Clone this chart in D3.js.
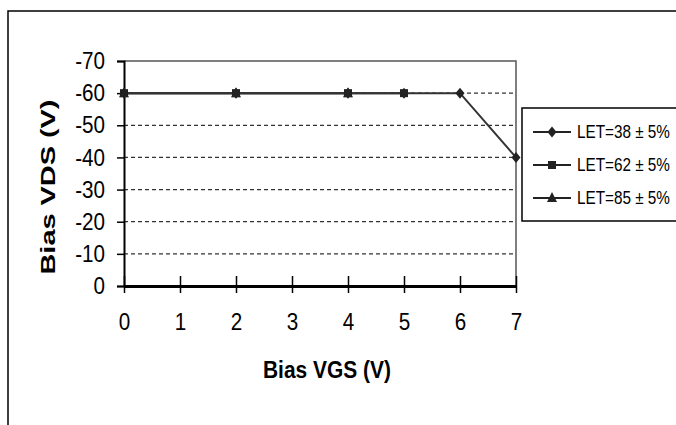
<!DOCTYPE html>
<html lang="en">
<head>
<meta charset="UTF-8">
<title>Bias VDS vs Bias VGS</title>
<script src="https://cdn.jsdelivr.net/npm/d3@7"></script>
<style>
body{margin:0;background:#fff;}
text{font-family:"Liberation Sans",Arial,sans-serif;fill:#000;}
</style>
</head>
<body>
<script>
// data
var seriesNames = ["LET=38 \u00b1 5%", "LET=62 \u00b1 5%", "LET=85 \u00b1 5%"];
var markers = ["diamond", "square", "triangle"];
var vgs38 = [0, 2, 4, 5, 6, 7];
var vds38 = [-60, -60, -60, -60, -60, -40];
var vgs62 = [0, 2, 4, 5];
var vds62 = [-60, -60, -60, -60];
var vgs85 = [0, 2, 4];
var vds85 = [-60, -60, -60];
var xTicks = [0, 1, 2, 3, 4, 5, 6, 7];
var yTicks = [0, -10, -20, -30, -40, -50, -60, -70];

var width = 676, height = 425;
var svg = d3.select("body").append("svg").attr("width", width).attr("height", height);

// squeeze text a bit, the original font is narrow
function narrow(sel, k) {
	sel.each(function() {
		var w = this.getComputedTextLength();
		d3.select(this).attr("textLength", w * k).attr("lengthAdjust", "spacingAndGlyphs");
	});
}

// outer frame (only top and left show)
svg.append("path").attr("d", "M8,425V11H676").attr("fill", "none").attr("stroke", "#000").attr("stroke-width", 1.5);

var x = d3.scaleLinear().domain([0, 7]).range([124, 516]);
var y = d3.scaleLinear().domain([0, -70]).range([286, 61]);

// gridlines
svg.selectAll(".grid").data(yTicks.filter(function(d){return d != 0 && d != -70;})).enter().append("line")
	.attr("x1", x(0)).attr("x2", x(7)).attr("y1", function(d){return y(d);}).attr("y2", function(d){return y(d);})
	.attr("stroke", "#333").attr("stroke-width", 1.2).attr("stroke-dasharray", "4,3");
// plot area top / right
svg.append("path").attr("d", "M" + x(0) + "," + y(-70) + "H" + x(7) + "V" + y(0))
	.attr("fill", "none").attr("stroke", "#555").attr("stroke-width", 1.5);

var fmt = function(d){return String(d);};

// y axis
var yAxis = svg.append("g").attr("transform", "translate(" + x(0) + ",0)")
	.call(d3.axisLeft(y).tickValues(yTicks).tickSize(7).tickPadding(12).tickFormat(fmt));
yAxis.select(".domain").attr("stroke-width", 2);
yAxis.selectAll(".tick line").attr("stroke-width", 1.5);
yAxis.selectAll("text").attr("font-size", 24).attr("font-family", null).call(narrow, 0.86);

// x axis, ticks cross the line
var xAxis = svg.append("g").attr("transform", "translate(0," + y(0) + ")")
	.call(d3.axisBottom(x).tickValues(xTicks).tickSize(7).tickSizeOuter(0).tickPadding(20).tickFormat(fmt));
xAxis.select(".domain").attr("stroke-width", 3);
xAxis.selectAll(".tick line").attr("y1", -10).attr("stroke-width", 1.5);
xAxis.selectAll("text").attr("font-size", 24).attr("font-family", null).call(narrow, 0.86);

// axis titles
svg.append("text").attr("transform", "translate(47,187) rotate(-90)")
	.attr("text-anchor", "middle").attr("dominant-baseline", "central")
	.attr("font-size", 21).attr("font-weight", "bold")
	.attr("textLength", 175).attr("lengthAdjust", "spacingAndGlyphs")
	.text("Bias VDS (V)");
svg.append("text").attr("x", 327).attr("y", 370)
	.attr("text-anchor", "middle").attr("dominant-baseline", "central")
	.attr("font-size", 23).attr("font-weight", "bold")
	.attr("textLength", 128).attr("lengthAdjust", "spacingAndGlyphs")
	.text("Bias VGS (V)");

// series
var series = [
	{xs: vgs38, ys: vds38},
	{xs: vgs62, ys: vds62},
	{xs: vgs85, ys: vds85}
];
function markerPath(type, cx, cy) {
	if (type == "diamond") return "M" + cx + "," + (cy - 5.5) + "L" + (cx + 4.5) + "," + cy + "L" + cx + "," + (cy + 5.5) + "L" + (cx - 4.5) + "," + cy + "Z";
	if (type == "square") return "M" + (cx - 4) + "," + (cy - 4) + "h8v8h-8Z";
	return "M" + cx + "," + (cy - 6) + "L" + (cx + 5) + "," + (cy + 4) + "L" + (cx - 5) + "," + (cy + 4) + "Z";
}
var line = d3.line().x(function(d){return x(d[0]);}).y(function(d){return y(d[1]);});
series.forEach(function(s, i) {
	var pts = s.xs.map(function(v, j){return [v, s.ys[j]];});
	svg.append("path").datum(pts).attr("d", line).attr("fill", "none")
		.attr("stroke", "#333").attr("stroke-width", 2);
});
series.forEach(function(s, i) {
	var pts = s.xs.map(function(v, j){return [v, s.ys[j]];});
	svg.selectAll(".m" + i).data(pts).enter().append("path").attr("class", "m" + i)
		.attr("d", function(d){return markerPath(markers[i], x(d[0]), y(d[1]));})
		.attr("fill", "#222");
});

// legend
var legend = svg.append("g");
legend.append("rect").attr("x", 522).attr("y", 108).attr("width", 160).attr("height", 113)
	.attr("fill", "#fff").attr("stroke", "#000").attr("stroke-width", 1.5);
var items = legend.selectAll(".item").data(seriesNames).enter().append("g")
	.attr("transform", function(d, i){return "translate(0," + (132 + i * 33) + ")";});
items.append("line").attr("x1", 533).attr("x2", 571).attr("stroke", "#222").attr("stroke-width", 2);
items.append("path").attr("d", function(d, i){return markerPath(markers[i], 552, 0);}).attr("fill", "#222");
// scale instead of textLength so the box of the text really is narrow
items.append("text").attr("transform", "translate(577,0) scale(0.85,1)")
	.attr("dominant-baseline", "central").attr("font-size", 18)
	.text(function(d){return d;});
</script>
</body>
</html>
